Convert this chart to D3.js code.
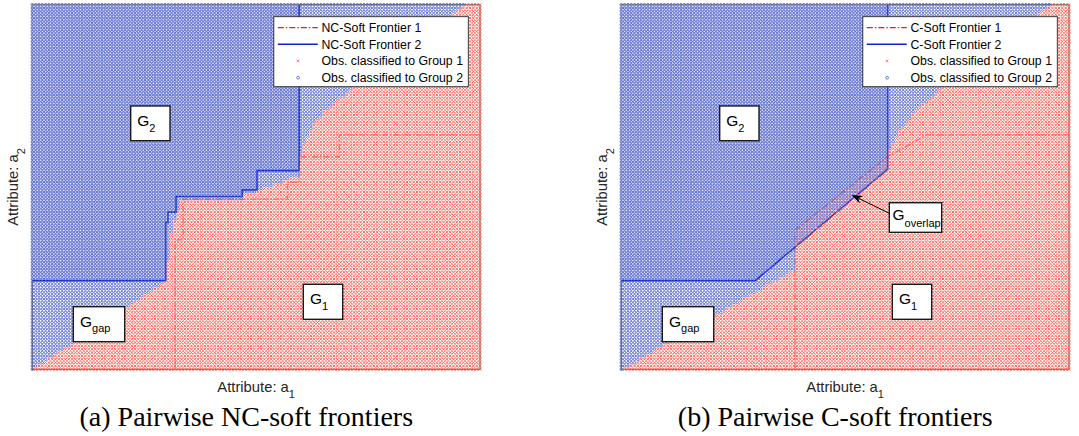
<!DOCTYPE html>
<html>
<head>
<meta charset="utf-8">
<script src="https://cdn.jsdelivr.net/npm/d3@7"></script>
<style>
  html, body { margin: 0; padding: 0; background: #ffffff; }
  svg { display: block; }
</style>
</head>
<body>
<svg id="chart" width="1079" height="436"></svg>
<script>
// ---- Data (normalised attribute units, a1 and a2 both in [0, 1]) ----

// Evaluation mesh of observations
const a1Grid = d3.range(136).map(i => i / 135);
const a2Grid = d3.range(110).map(j => j / 109);

// Frontier vertices as [a1, a2]
const ncFrontier1 = [[1.000,0.643],[0.686,0.643],[0.686,0.583],[0.596,0.583],[0.596,0.513],[0.570,0.513],[0.570,0.467],[0.337,0.467],[0.337,0.355],[0.319,0.355],[0.319,0.000]];
const ncFrontier2 = [[0.000,0.243],[0.298,0.243],[0.298,0.403],[0.303,0.403],[0.303,0.431],[0.321,0.431],[0.321,0.474],[0.469,0.474],[0.469,0.492],[0.502,0.492],[0.502,0.545],[0.596,0.545],[0.596,1.000]];
const cFrontier1  = [[1.000,0.643],[0.682,0.643],[0.595,0.583],[0.388,0.381],[0.388,0.000]];
const cFrontier2  = [[0.000,0.243],[0.299,0.243],[0.595,0.549],[0.595,1.000]];

// Classification edges as [a2, a1]:
// an observation goes to Group 2 when a1 <= edge2(a2) and to Group 1 when a1 > edge1(a2)
const ncEdge = [[0.000,0.003],[0.243,0.300],[0.355,0.308],[0.424,0.321],[0.462,0.334],[0.463,0.470],[0.481,0.470],[0.482,0.502],[0.490,0.502],[0.531,0.596],[0.583,0.598],[0.609,0.604],[0.664,0.625],[0.710,0.654],[0.775,0.721],[1.000,0.967]];
const cEdgeGroup2 = [[0.000,0.004],[0.274,0.388],[0.335,0.388],[0.549,0.595],[0.583,0.597],[0.592,0.598],[0.647,0.619],[0.711,0.660],[0.775,0.720],[1.000,0.958]];
const cEdgeGroup1 = [[0.000,0.004],[0.274,0.388],[0.381,0.388],[0.583,0.595],[0.592,0.598],[0.647,0.619],[0.711,0.660],[0.775,0.720],[1.000,0.958]];

// Text
const legendNamesNC = ["NC-Soft Frontier 1", "NC-Soft Frontier 2", "Obs. classified to Group 1", "Obs. classified to Group 2"];
const legendNamesC  = ["C-Soft Frontier 1", "C-Soft Frontier 2", "Obs. classified to Group 1", "Obs. classified to Group 2"];
const captions = ["(a) Pairwise NC-soft frontiers", "(b) Pairwise C-soft frontiers"];

// ---- Layout ----
const plotW = 447.7, plotTop = 4.7, plotBottom = 369.3;
const RED = "#ff5f52", BLUE = "#4d60c8", LINE_BLUE = "#0b22d8", LINE_RED = "#e8201a";
const SANS = "'Liberation Sans', Arial, sans-serif";

const panels = [
  { x0: 32.3,  f1: ncFrontier1, f2: ncFrontier2, e1: ncEdge,      e2: ncEdge,      names: legendNamesNC, caption: captions[0], overlap: false },
  { x0: 621.3, f1: cFrontier1,  f2: cFrontier2,  e1: cEdgeGroup1, e2: cEdgeGroup2, names: legendNamesC,  caption: captions[1], overlap: true }
];

// Region tags: top-left corner in data units, box size in px
const tags = [
  { main: "G", sub: "2",   a1: 0.2198, a2: 0.7222, w: 39.3, h: 34.7, padX: 6.6, base: 20,   subBase: 25.7 },
  { main: "G", sub: "1",   a1: 0.6053, a2: 0.2331, w: 39.4, h: 35,   padX: 6.6, base: 20,   subBase: 25.7 },
  { main: "G", sub: "gap", a1: 0.0916, a2: 0.1717, w: 51.4, h: 35,   padX: 6.7, base: 20,   subBase: 25.7 }
];
const overlapTag = { main: "G", sub: "overlap", a1: 0.5986, a2: 0.4569, w: 52.4, h: 29.6, padX: 3.2, base: 17.3, subBase: 24,
                     from: [0.5986, 0.428], to: [0.5146, 0.478] };

const svg = d3.select("#chart");
const defs = svg.append("defs");

panels.forEach((p, pi) => {
  const x = d3.scaleLinear().domain([0, 1]).range([p.x0, p.x0 + plotW]);
  const y = d3.scaleLinear().domain([0, 1]).range([plotBottom, plotTop]);
  const edge2 = d3.scaleLinear().domain(p.e2.map(d => d[0])).range(p.e2.map(d => d[1])).clamp(true);
  const edge1 = d3.scaleLinear().domain(p.e1.map(d => d[0])).range(p.e1.map(d => d[1])).clamp(true);
  const line = d3.line().x(d => x(d[0])).y(d => y(d[1]));

  const cells = [];
  a2Grid.forEach(v => a1Grid.forEach(u => {
    const g2 = u <= edge2(v), g1 = u > edge1(v);
    cells.push({ a1: u, a2: v, g2, g1, both: g1 && g2 });
  }));

  const g = svg.append("g");

  // axes box
  g.append("rect")
    .attr("x", x(0)).attr("y", y(1)).attr("width", x(1) - x(0)).attr("height", y(0) - y(1))
    .attr("fill", "#ffffff").attr("stroke", "#555555").attr("stroke-width", 1);

  // Group 2 frontier region, leaving out whatever lies under Frontier 1
  const g1Poly = line(p.f1.concat([[1, 0]])) + "Z";
  const outer = `M${x(0) - 2},${y(1) - 2}H${x(1) + 2}V${y(0) + 2}H${x(0) - 2}Z`;
  defs.append("clipPath").attr("id", "notG1_" + pi)
    .append("path").attr("d", outer + g1Poly).attr("clip-rule", "evenodd");
  g.append("path").datum(p.f2.concat([[0, 1]]))
    .attr("d", d => line(d) + "Z").attr("fill", "#d3d7f3").attr("stroke", "none")
    .attr("clip-path", `url(#notG1_${pi})`);

  // frontiers (markers are plotted over them)
  g.append("path").datum(p.f1).attr("d", line)
    .attr("fill", "none").attr("stroke", LINE_RED).attr("stroke-width", 1.3)
    .attr("stroke-dasharray", "6,2,1.5,2").attr("opacity", 0.6);
  g.append("path").datum(p.f2).attr("d", line)
    .attr("fill", "none").attr("stroke", LINE_BLUE).attr("stroke-width", 1.6);

  // observations classified to Group 1 that also fall in Group 2 (drawn faint, beneath)
  const s = 1.4;
  const cross = d => {
    const cx = x(d.a1), cy = y(d.a2);
    return `M${cx - s},${cy - s}L${cx + s},${cy + s}M${cx - s},${cy + s}L${cx + s},${cy - s}`;
  };
  g.append("g").selectAll("path")
    .data(cells.filter(c => c.both))
    .join("path")
    .attr("d", cross)
    .attr("fill", "none").attr("stroke", RED).attr("stroke-width", 0.9).attr("opacity", 0.55);

  // observations classified to Group 2
  g.append("g").selectAll("circle")
    .data(cells.filter(c => c.g2))
    .join("circle")
    .attr("cx", d => x(d.a1)).attr("cy", d => y(d.a2)).attr("r", 1.25)
    .attr("fill", "none").attr("stroke", BLUE).attr("stroke-width", 0.9);

  // observations classified to Group 1
  g.append("g").selectAll("path")
    .data(cells.filter(c => c.g1 && !c.both))
    .join("path")
    .attr("d", cross)
    .attr("fill", "none").attr("stroke", RED).attr("stroke-width", 1.0);

  // region tags
  const allTags = p.overlap ? tags.concat([overlapTag]) : tags;
  allTags.forEach(t => {
    const bx = x(t.a1), by = y(t.a2);
    const tg = g.append("g").attr("transform", `translate(${bx},${by})`);
    tg.append("rect").attr("width", t.w).attr("height", t.h)
      .attr("fill", "#ffffff").attr("stroke", "#1a1a1a").attr("stroke-width", 1.4);
    const tx = tg.append("text").attr("x", t.padX).attr("y", t.base)
      .attr("font-family", SANS).attr("font-size", 15.5).attr("fill", "#000");
    tx.append("tspan").text(t.main);
    tx.append("tspan").attr("dy", t.subBase - t.base).attr("font-size", 11).text(t.sub);
    if (t.from) {
      const x1 = x(t.from[0]), y1 = y(t.from[1]), x2 = x(t.to[0]), y2 = y(t.to[1]);
      const ang = Math.atan2(y2 - y1, x2 - x1);
      const L = 11, Wd = 4.2, back = 7.5;
      const ux = Math.cos(ang), uy = Math.sin(ang);
      const px = -uy, py = ux;
      const bxp = x2 - ux * L, byp = y2 - uy * L;
      const nx = x2 - ux * back, ny = y2 - uy * back;
      g.append("line").attr("x1", x1).attr("y1", y1).attr("x2", nx).attr("y2", ny)
        .attr("stroke", "#000").attr("stroke-width", 1);
      g.append("path")
        .attr("d", `M${x2},${y2}L${bxp + px * Wd},${byp + py * Wd}L${nx},${ny}L${bxp - px * Wd},${byp - py * Wd}Z`)
        .attr("fill", "#000");
    }
  });

  // legend
  const lw = 194.5, lh = 70;
  const lg = g.append("g").attr("transform", `translate(${x(1) - 11.7 - lw},16.7)`);
  lg.append("rect").attr("width", lw).attr("height", lh)
    .attr("fill", "#ffffff").attr("stroke", "#262626").attr("stroke-width", 0.9);
  const rowY = [11, 27.6, 44.3, 61];
  lg.append("line").attr("x1", 4).attr("x2", 44).attr("y1", rowY[0]).attr("y2", rowY[0])
    .attr("stroke", LINE_RED).attr("stroke-width", 1.3).attr("stroke-dasharray", "6,2,1.5,2");
  lg.append("line").attr("x1", 4).attr("x2", 44).attr("y1", rowY[1]).attr("y2", rowY[1])
    .attr("stroke", LINE_BLUE).attr("stroke-width", 1.6);
  lg.append("path")
    .attr("d", `M${24.3 - 1.3},${rowY[2] - 1.3}L${24.3 + 1.3},${rowY[2] + 1.3}M${24.3 - 1.3},${rowY[2] + 1.3}L${24.3 + 1.3},${rowY[2] - 1.3}`)
    .attr("stroke", RED).attr("stroke-width", 0.8);
  lg.append("circle").attr("cx", 24.3).attr("cy", rowY[3]).attr("r", 1.4)
    .attr("fill", "none").attr("stroke", BLUE).attr("stroke-width", 0.8);
  lg.selectAll("text.name").data(p.names).join("text")
    .attr("class", "name")
    .attr("x", 47.7).attr("y", (d, i) => rowY[i] + 4.3)
    .attr("font-family", SANS).attr("font-size", 12.3).attr("fill", "#000")
    .text(d => d);

  // axis titles
  const xl = g.append("text")
    .attr("x", x(0.5)).attr("y", 391.7).attr("text-anchor", "middle")
    .attr("font-family", SANS).attr("font-size", 14.8).attr("fill", "#262626");
  xl.append("tspan").text("Attribute: a");
  xl.append("tspan").attr("dy", 6.5).attr("font-size", 11).text("1");

  const yl = g.append("text")
    .attr("transform", `translate(${p.x0 - 14},${y(0.5)}) rotate(-90)`)
    .attr("text-anchor", "middle")
    .attr("font-family", SANS).attr("font-size", 14.8).attr("fill", "#262626");
  yl.append("tspan").text("Attribute: a");
  yl.append("tspan").attr("dy", 6.5).attr("font-size", 11).text("2");

  // sub-figure caption
  g.append("text")
    .attr("x", p.x0 + 214).attr("y", 425.5).attr("text-anchor", "middle")
    .attr("font-family", "'Liberation Serif', 'Times New Roman', serif").attr("font-size", 28)
    .attr("fill", "#000")
    .text(p.caption);
});
</script>
</body>
</html>
